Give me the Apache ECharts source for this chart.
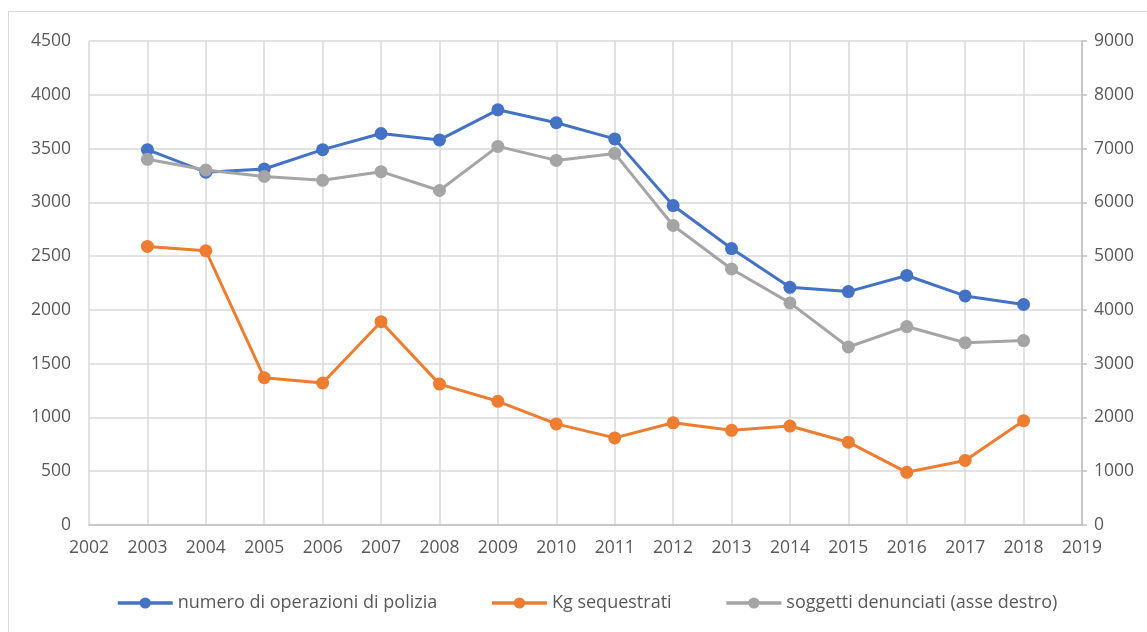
<!DOCTYPE html>
<html>
<head>
<meta charset="UTF-8">
<script src="https://cdn.jsdelivr.net/npm/echarts@6/dist/echarts.min.js"></script>
<style>
  html, body { margin: 0; padding: 0; background: #fff; }
  #frame { position: absolute; left: 8px; top: 11px; width: 1200px; height: 700px;
           border-left: 1.5px solid #d9d9d9; border-top: 1.5px solid #d9d9d9; }
  #main { position: absolute; left: 0; top: 0; width: 1147px; height: 632px; }
</style>
</head>
<body>
<div id="frame"></div>
<div id="main"></div>
<script>
// anni e valori
var anni = [2003, 2004, 2005, 2006, 2007, 2008, 2009, 2010, 2011, 2012, 2013, 2014, 2015, 2016, 2017, 2018];
var operazioni = [3490, 3280, 3310, 3490, 3640, 3580, 3860, 3740, 3590, 2970, 2570, 2210, 2170, 2320, 2130, 2050];
var kgSequestrati = [2590, 2550, 1370, 1320, 1890, 1310, 1150, 940, 810, 950, 880, 920, 770, 490, 600, 970];
var denunciati = [6800, 6600, 6480, 6410, 6570, 6220, 7040, 6780, 6910, 5570, 4760, 4130, 3310, 3690, 3390, 3430];

function coppie(vals) {
    var out = [];
    for (var i = 0; i < anni.length; i++) out.push([anni[i], vals[i]]);
    return out;
}
function semplice(v) { return String(v); }

var txt = '#595959';
var font = 'Open Sans';
var fs = 17.5;
var myChart = echarts.init(document.getElementById('main'));

var option = {
    animation: false,
    textStyle: { fontFamily: font },
    grid: { left: 89, right: 65, top: 41, bottom: 107, containLabel: false },
    legend: {
        bottom: 15,
        left: 111,
        itemWidth: 55,
        itemHeight: 14,
        itemGap: 53,
        lineStyle: { width: 3.5 },
        textStyle: { color: txt, fontSize: 18, fontFamily: font },
        data: ['numero di operazioni di polizia', 'Kg sequestrati', 'soggetti denunciati (asse destro)']
    },
    xAxis: {
        type: 'value',
        min: 2002,
        max: 2019,
        interval: 1,
        axisLine: { lineStyle: { color: '#bfbfbf', width: 1.5 } },
        axisTick: { show: false },
        axisLabel: { color: txt, fontSize: fs, margin: 14, formatter: semplice },
        splitLine: { show: true, lineStyle: { color: '#d9d9d9', width: 1.5 } }
    },
    yAxis: [{
        type: 'value',
        min: 0,
        max: 4500,
        interval: 500,
        axisLine: { show: false },
        axisTick: { show: false },
        axisLabel: { color: txt, fontSize: fs, margin: 18, formatter: semplice },
        splitLine: { lineStyle: { color: '#d9d9d9', width: 1.5 } }
    }, {
        type: 'value',
        min: 0,
        max: 9000,
        interval: 1000,
        position: 'right',
        axisLine: { show: true, lineStyle: { color: '#bfbfbf', width: 1.5 } },
        axisTick: { show: true, length: 5, lineStyle: { color: '#bfbfbf', width: 1.5 } },
        axisLabel: { color: txt, fontSize: fs, margin: 12, formatter: semplice },
        splitLine: { show: false }
    }],
    series: [{
        name: 'numero di operazioni di polizia',
        type: 'line',
        yAxisIndex: 0,
        symbol: 'circle',
        symbolSize: 13,
        lineStyle: { width: 3, color: '#4472c4' },
        itemStyle: { color: '#4472c4' },
        data: coppie(operazioni),
        z: 4
    }, {
        name: 'Kg sequestrati',
        type: 'line',
        yAxisIndex: 0,
        symbol: 'circle',
        symbolSize: 13,
        lineStyle: { width: 3, color: '#ed7d31' },
        itemStyle: { color: '#ed7d31' },
        data: coppie(kgSequestrati),
        z: 3
    }, {
        name: 'soggetti denunciati (asse destro)',
        type: 'line',
        yAxisIndex: 1,
        symbol: 'circle',
        symbolSize: 13,
        lineStyle: { width: 3, color: '#a5a5a5' },
        itemStyle: { color: '#a5a5a5' },
        data: coppie(denunciati),
        z: 5
    }]
};

myChart.setOption(option);
</script>
</body>
</html>
